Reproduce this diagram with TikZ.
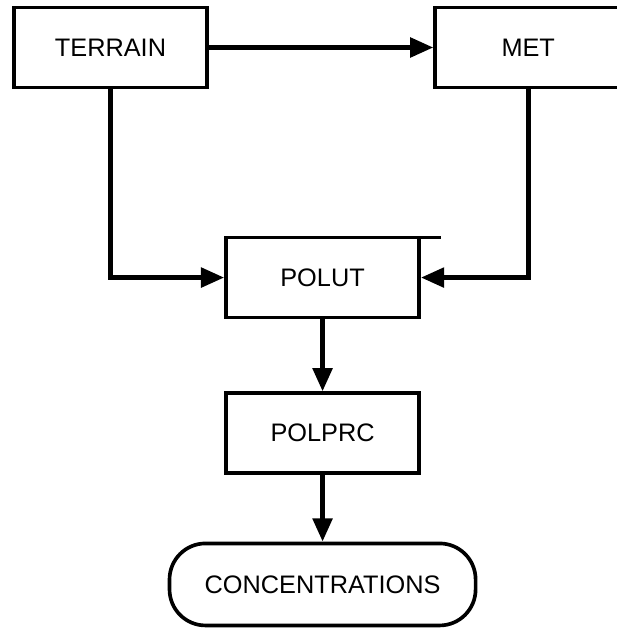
\documentclass[tikz,border=0pt]{standalone}
\usepackage{fontspec}
\setmainfont{Liberation Sans}
\usetikzlibrary{arrows.meta}

\tikzset{
  box/.style={draw, line width=2.6pt, minimum width=4.825cm, minimum height=2cm, inner sep=0pt},
  term/.style={box, rounded corners=0.9cm, minimum width=7.65cm, minimum height=2.05cm},
  flow/.style={line width=3.4pt, -{Triangle[length=0.58cm,width=0.48cm]}}
}

\begin{document}
\begin{tikzpicture}[x=0.025cm, y=-0.025cm, font=\fontsize{18}{20}\selectfont]
    \useasboundingbox (0,0) rectangle (616,629);

    \node[box] (terrain) at (110.5,47.5) {TERRAIN};
    \node[box, minimum width=4.65cm] (met) [right of=terrain, node distance=10.44cm] {MET};
    \node[box] (polut) [below of=terrain, node distance=5.75cm, xshift=5.3cm] {POLUT};
    \node[box] (polprc) [below of=polut, node distance=3.89cm] {POLPRC};
    \node[term] (conc) [below of=polprc, node distance=3.78cm] {CONCENTRATIONS};

    \draw[flow] (terrain) -- (met);
    \draw[flow] (terrain.south) |- (polut.west);
    \draw[flow] (met.south) |- (polut.east);
    \draw[flow] (polut) -- (polprc);
    \draw[flow] (polprc) -- (conc);
    % stray stroke over POLUT
    \draw[line width=2.6pt] ([xshift=-1.3pt, yshift=-1.3pt]polut.north east) -- ++(22,0);
  \end{tikzpicture}
\end{document}
